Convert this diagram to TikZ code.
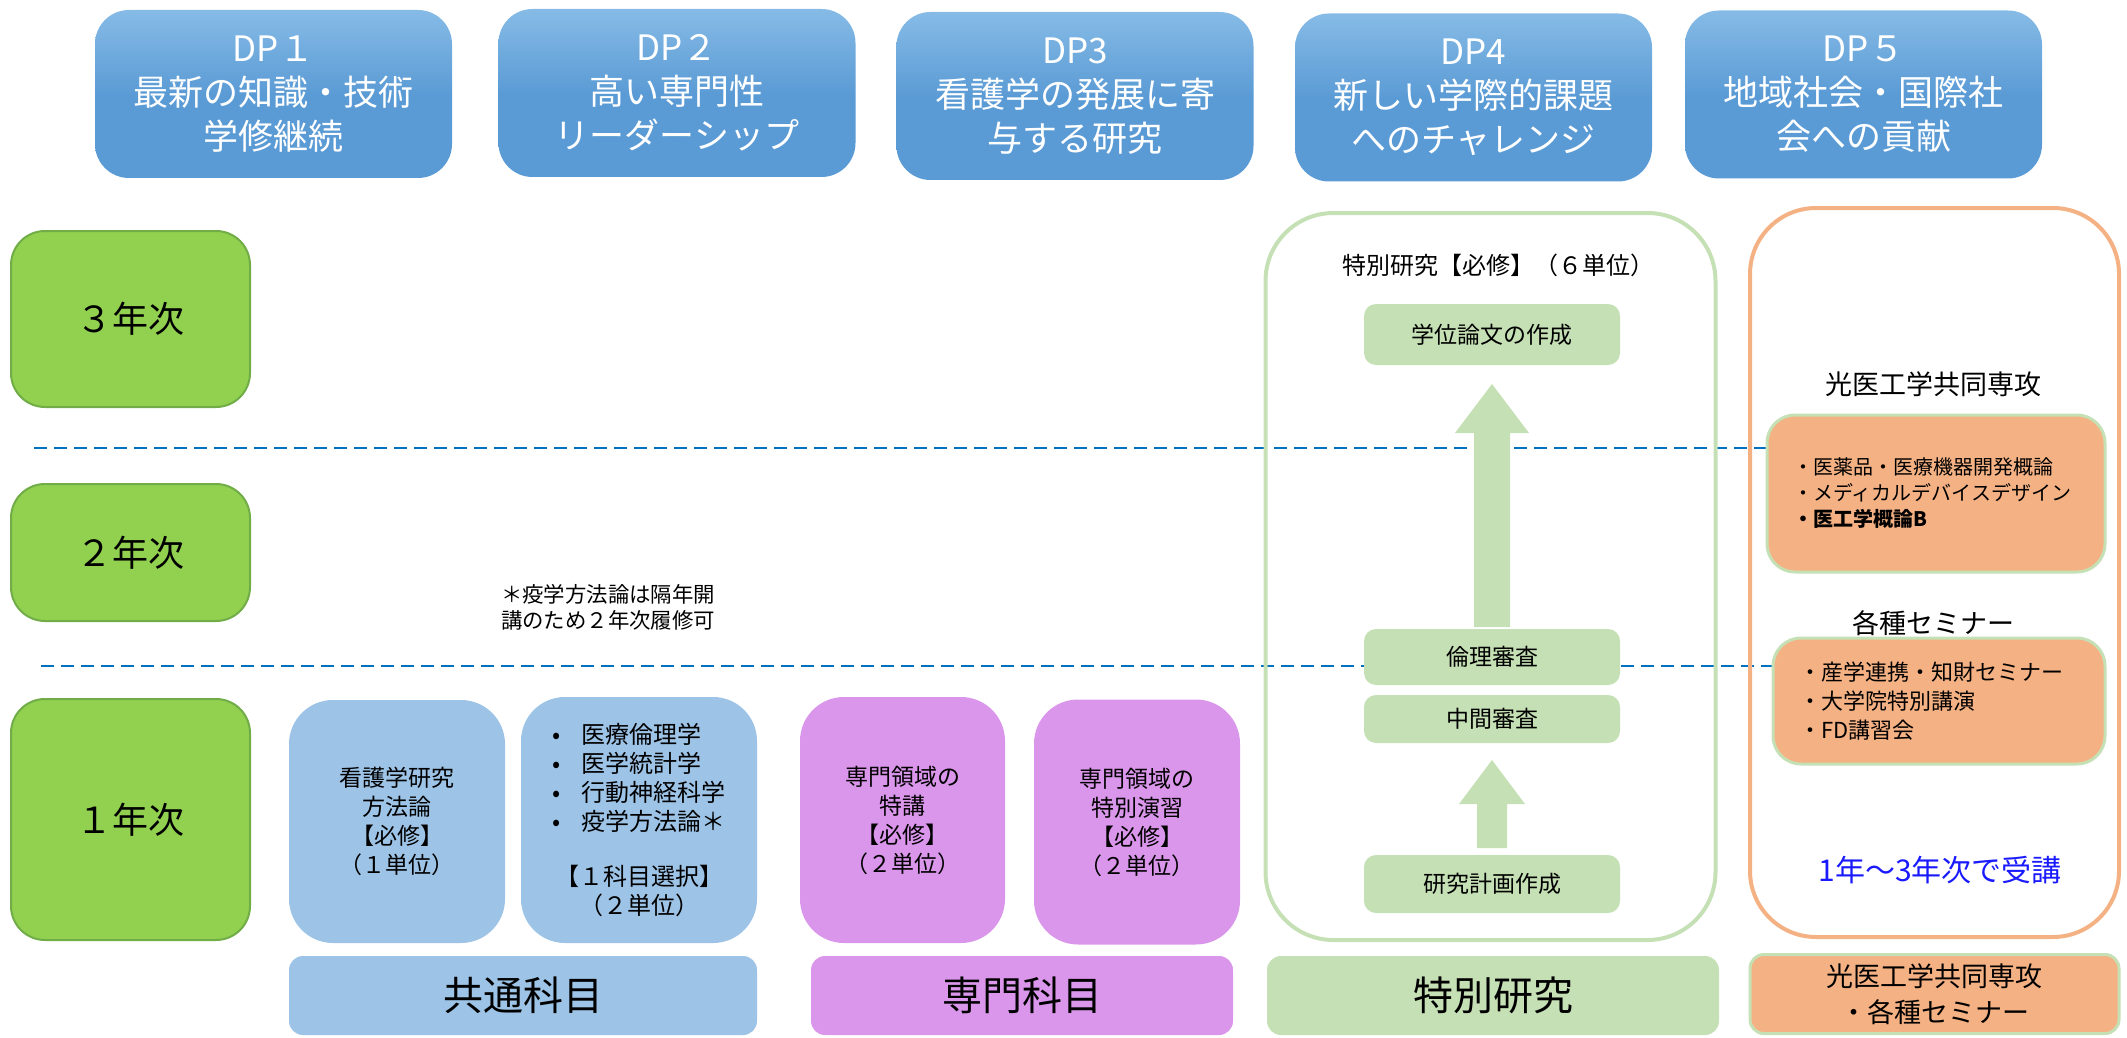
\documentclass[tikz,border=0pt]{standalone}
\usepackage{fontspec}
\setmainfont{Noto Sans CJK JP}
\usetikzlibrary{calc,backgrounds}
\definecolor{dpblue}{HTML}{5B9BD5}
\definecolor{dptop}{HTML}{86BBE6}
\definecolor{yeargreen}{HTML}{92D050}
\definecolor{yearborder}{HTML}{70AD47}
\definecolor{commonblue}{HTML}{9DC3E6}
\definecolor{specviolet}{HTML}{DA96EA}
\definecolor{lgreen}{HTML}{C5E0B4}
\definecolor{orangef}{HTML}{F4B183}
\definecolor{dashblue}{HTML}{0070C0}
\definecolor{txtblue}{HTML}{1A1AFF}
\begin{document}
\begin{tikzpicture}[x=0.5pt,y=-0.5pt,
  every node/.style={inner sep=0pt,outer sep=0pt},
  dpbox/.style={rounded corners=17pt,top color=dptop,bottom color=dpblue,middle color=dpblue,text=white,minimum width=178.5pt,minimum height=84pt,align=center,font=\fontsize{17.5}{22}\selectfont},
  yearbox/.style={rounded corners=17pt,fill=yeargreen,draw=yearborder,line width=1pt,minimum width=119.5pt,font=\fontsize{18}{22}\selectfont},
  cbox/.style={rounded corners=22pt,fill=commonblue,align=center,font=\fontsize{11.5}{14.5}\selectfont},
  sbox/.style={rounded corners=22pt,fill=specviolet,align=center,font=\fontsize{11.5}{14.5}\selectfont},
  labbox/.style={rounded corners=7pt,minimum height=39.5pt,align=center,font=\fontsize{20}{24}\selectfont},
  gbox/.style={rounded corners=6pt,fill=lgreen,minimum width=128pt,font=\fontsize{11.5}{14}\selectfont},
  obox/.style={rounded corners=14pt,fill=orangef,draw=lgreen,line width=1.5pt,align=left},
  gcont/.style={draw=lgreen,line width=2pt,rounded corners=34pt},
  ocont/.style={draw=orangef,line width=2pt,rounded corners=33pt},
  dashline/.style={draw=dashblue,line width=1.3pt,dash pattern=on 6.5pt off 3.5pt},
  blockarrow/.style={fill=lgreen}
]
\useasboundingbox (0,0) rectangle (2127,1038);

% DP boxes
\node[dpbox] (dp1) at (273.5,94) {DP１\\最新の知識・技術\\学修継続};
\node[dpbox] (dp2) at (677,93) {DP２\\高い専門性\\リーダーシップ};
\node[dpbox] (dp3) at (1075,96) {DP3\\看護学の発展に寄\\与する研究};
\node[dpbox] (dp4) at (1473.5,97.5) {DP4\\新しい学際的課題\\へのチャレンジ};
\node[dpbox] (dp5) at (1863.5,94.5) {DP５\\地域社会・国際社\\会への貢献};

% Year boxes
\node[yearbox,minimum height=88pt] (y3) at (130.5,319) {３年次};
\node[yearbox,minimum height=68.5pt] (y2) at (130.5,552.5) {２年次};
\node[yearbox,minimum height=120.5pt] (y1) at (130.5,819.5) {１年次};

% containers
\node[gcont,minimum width=225pt,minimum height=363.5pt] (gc) at (1490.5,576.5) {};
\node[ocont,minimum width=184.5pt,minimum height=364.5pt] (oc) at (1934.5,572.5) {};

% common / special courses
\node[cbox,minimum width=108pt,minimum height=121.5pt] (c1) at (397,821.5) {看護学研究\\方法論\\【必修】\\（１単位）};
\node[cbox,minimum width=118pt,minimum height=123pt,font=\fontsize{12}{14.5}\selectfont] (c2) at (639,820)
  {\begin{tabular}{@{}l@{}}\makebox[1.2em][l]{•}医療倫理学\\ \makebox[1.2em][l]{•}医学統計学\\ \makebox[1.2em][l]{•}行動神経科学\\ \makebox[1.2em][l]{•}疫学方法論＊\end{tabular}\\[12pt]【１科目選択】\\（２単位）};
\node[sbox,minimum width=102.5pt,minimum height=123pt] (s1) at (902.5,820) {専門領域の\\特講\\【必修】\\（２単位）};
\node[sbox,minimum width=103pt,minimum height=122.5pt] (s2) at (1137,822) {専門領域の\\特別演習\\【必修】\\（２単位）};

\node[align=center,font=\fontsize{10.7}{13}\selectfont] (note) at (608,607) {＊疫学方法論は隔年開\\講のため２年次履修可};

% bottom labels
\node[labbox,fill=commonblue,minimum width=234pt] (l1) at (523,995.5) {共通科目};
\node[labbox,fill=specviolet,minimum width=211pt] (l2) at (1022,995.5) {専門科目};
\node[labbox,fill=lgreen,minimum width=226pt] (l3) at (1493,995.5) {特別研究};
\node[labbox,fill=orangef,draw=lgreen,line width=1.5pt,minimum width=184.5pt,font=\fontsize{13.5}{18}\selectfont] (l4) at (1934.5,994) {光医工学共同専攻\\・各種セミナー};

% special research
\node[font=\fontsize{12}{14}\selectfont] (gt) at (1498,265) {特別研究【必修】（６単位）};
\node[gbox,minimum height=30.5pt] (gakui) at (1492,334.5) {学位論文の作成};
\node[gbox,minimum height=28pt] (rinri) at (1492,657) {倫理審査};
\node[gbox,minimum height=24pt] (chukan) at (1492,719) {中間審査};
\node[gbox,minimum height=29pt] (keikaku) at (1492,884) {研究計画作成};

\fill[blockarrow] ($(rinri.north)+(-18,-2)$) -- ($(gakui.south)+(-18,68)$) -- ($(gakui.south)+(-37,68)$) -- ($(gakui.south)+(0,19)$) -- ($(gakui.south)+(37,68)$) -- ($(gakui.south)+(18,68)$) -- ($(rinri.north)+(18,-2)$) -- cycle;
\fill[blockarrow] ($(keikaku.north)+(-15,-7)$) -- ($(chukan.south)+(-15,61)$) -- ($(chukan.south)+(-33,61)$) -- ($(chukan.south)+(0,17)$) -- ($(chukan.south)+(33,61)$) -- ($(chukan.south)+(15,61)$) -- ($(keikaku.north)+(15,-7)$) -- cycle;

% joint major / seminars
\node[font=\fontsize{13.5}{16}\selectfont] (ot1) at (1933,384) {光医工学共同専攻};
\node[obox,minimum width=169pt,minimum height=78.5pt,text width=143pt,font=\fontsize{10}{13}\selectfont] (ob1) at (1936,493.5) {・医薬品・医療機器開発概論\\・メディカルデバイスデザイン\\\textbf{・医工学概論B}};
\node[font=\fontsize{13.5}{16}\selectfont] (ot2) at (1933,623) {各種セミナー};
\node[obox,minimum width=166pt,minimum height=63pt,text width=140pt,font=\fontsize{11}{14.5}\selectfont] (ob2) at (1939,701) {・産学連携・知財セミナー\\・大学院特別講演\\・FD講習会};
\node[text=txtblue,font=\fontsize{15}{18}\selectfont] (ju) at (1940,870) {1年～3年次で受講};

% dashed year separators
\begin{scope}[on background layer]
\coordinate (d1s) at (34,448);
\coordinate (d2s) at (41,666);
\draw[dashline] (d1s) -- (d1s -| ob1.west);
\draw[dashline] (d2s) -- (d2s -| ob2.west);
\end{scope}
\end{tikzpicture}
\end{document}
